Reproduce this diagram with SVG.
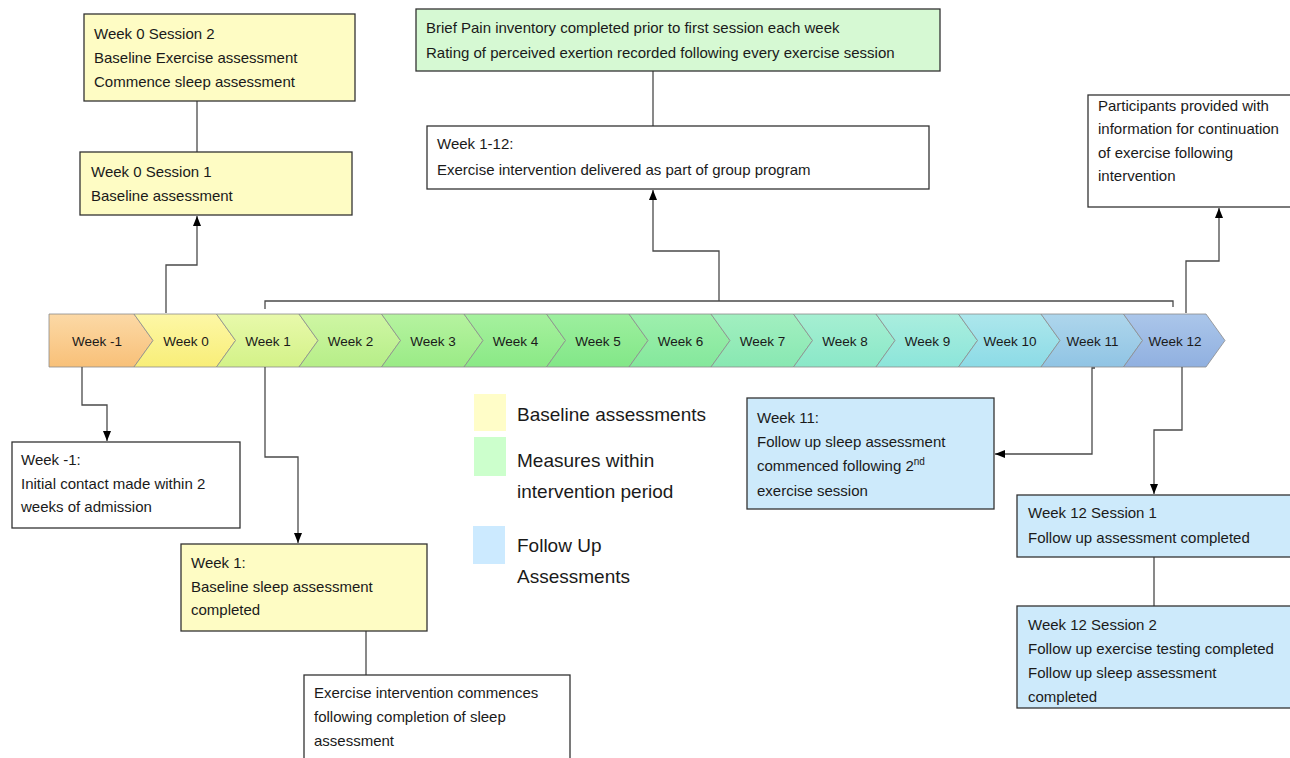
<svg xmlns="http://www.w3.org/2000/svg" width="1290" height="758" viewBox="0 0 1290 758">
<style>
  text { font-family: "Liberation Sans", Arial, sans-serif; fill: #1a1a1a; }
  .bt { font-size: 15px; }
  .wk { font-size: 13.5px; text-anchor: middle; }
  .lg { font-size: 19px; }
  .box { stroke: #333333; stroke-width: 1.3; }
  .white { fill: #ffffff; }
  .yellow { fill: #fefcc4; }
  .green { fill: #d6f9d3; }
  .blue { fill: #cdeafb; }
  .chev { stroke: #8c8c8c; stroke-width: 0.8; }
  .conn { fill: none; stroke: #4a4a4a; stroke-width: 1.3; }
  .arr { marker-end: url(#ah); }
</style>
<defs>
  <marker id="ah" markerUnits="userSpaceOnUse" markerWidth="10" markerHeight="10" viewBox="0 0 10 10" refX="10" refY="5" orient="auto">
    <path d="M0,1 L10,5 L0,9 Z" fill="#000000"/>
  </marker>
  <linearGradient id="g0" x1="0" y1="0" x2="0" y2="1"><stop offset="0" stop-color="#fcd9a6"/><stop offset="1" stop-color="#f8c078"/></linearGradient>
  <linearGradient id="g1" x1="0" y1="0" x2="0" y2="1"><stop offset="0" stop-color="#fdf7a6"/><stop offset="1" stop-color="#f8ee78"/></linearGradient>
  <linearGradient id="g2" x1="0" y1="0" x2="0" y2="1"><stop offset="0" stop-color="#e8f9ab"/><stop offset="1" stop-color="#d3f288"/></linearGradient>
  <linearGradient id="g3" x1="0" y1="0" x2="0" y2="1"><stop offset="0" stop-color="#cff6a4"/><stop offset="1" stop-color="#b6ee88"/></linearGradient>
  <linearGradient id="g4" x1="0" y1="0" x2="0" y2="1"><stop offset="0" stop-color="#b6f3a0"/><stop offset="1" stop-color="#9aeb86"/></linearGradient>
  <linearGradient id="g5" x1="0" y1="0" x2="0" y2="1"><stop offset="0" stop-color="#a6f19e"/><stop offset="1" stop-color="#8ae986"/></linearGradient>
  <linearGradient id="g6" x1="0" y1="0" x2="0" y2="1"><stop offset="0" stop-color="#9def9e"/><stop offset="1" stop-color="#82e788"/></linearGradient>
  <linearGradient id="g7" x1="0" y1="0" x2="0" y2="1"><stop offset="0" stop-color="#9eefad"/><stop offset="1" stop-color="#84e89c"/></linearGradient>
  <linearGradient id="g8" x1="0" y1="0" x2="0" y2="1"><stop offset="0" stop-color="#a2efc0"/><stop offset="1" stop-color="#88e8b2"/></linearGradient>
  <linearGradient id="g9" x1="0" y1="0" x2="0" y2="1"><stop offset="0" stop-color="#a6efd2"/><stop offset="1" stop-color="#8ae8c8"/></linearGradient>
  <linearGradient id="g10" x1="0" y1="0" x2="0" y2="1"><stop offset="0" stop-color="#aaeede"/><stop offset="1" stop-color="#8ce5da"/></linearGradient>
  <linearGradient id="g11" x1="0" y1="0" x2="0" y2="1"><stop offset="0" stop-color="#ade7ec"/><stop offset="1" stop-color="#8cdbe6"/></linearGradient>
  <linearGradient id="g12" x1="0" y1="0" x2="0" y2="1"><stop offset="0" stop-color="#aed6ec"/><stop offset="1" stop-color="#90c4e4"/></linearGradient>
  <linearGradient id="g13" x1="0" y1="0" x2="0" y2="1"><stop offset="0" stop-color="#abc6ea"/><stop offset="1" stop-color="#90b0e0"/></linearGradient>
</defs>
<rect width="1290" height="758" fill="#ffffff"/>

<g id="timeline">
  <g id="wk-1"><path class="chev" fill="url(#g0)" d="M49,314 H134 L153,340.5 L134,367 H49 Z"/><text class="wk" x="97" y="346">Week -1</text></g>
  <g id="wk0"><path class="chev" fill="url(#g1)" d="M134,314 H216.5 L235.5,340.5 L216.5,367 H134 L153,340.5 Z"/><text class="wk" x="186" y="346">Week 0</text></g>
  <g id="wk1"><path class="chev" fill="url(#g2)" d="M216.5,314 H299 L318,340.5 L299,367 H216.5 L235.5,340.5 Z"/><text class="wk" x="268" y="346">Week 1</text></g>
  <g id="wk2"><path class="chev" fill="url(#g3)" d="M299,314 H381.5 L400.5,340.5 L381.5,367 H299 L318,340.5 Z"/><text class="wk" x="350.5" y="346">Week 2</text></g>
  <g id="wk3"><path class="chev" fill="url(#g4)" d="M381.5,314 H464 L483,340.5 L464,367 H381.5 L400.5,340.5 Z"/><text class="wk" x="433" y="346">Week 3</text></g>
  <g id="wk4"><path class="chev" fill="url(#g5)" d="M464,314 H546.5 L565.5,340.5 L546.5,367 H464 L483,340.5 Z"/><text class="wk" x="515.5" y="346">Week 4</text></g>
  <g id="wk5"><path class="chev" fill="url(#g6)" d="M546.5,314 H629 L648,340.5 L629,367 H546.5 L565.5,340.5 Z"/><text class="wk" x="598" y="346">Week 5</text></g>
  <g id="wk6"><path class="chev" fill="url(#g7)" d="M629,314 H711 L730,340.5 L711,367 H629 L648,340.5 Z"/><text class="wk" x="680.5" y="346">Week 6</text></g>
  <g id="wk7"><path class="chev" fill="url(#g8)" d="M711,314 H793.5 L812.5,340.5 L793.5,367 H711 L730,340.5 Z"/><text class="wk" x="762.5" y="346">Week 7</text></g>
  <g id="wk8"><path class="chev" fill="url(#g9)" d="M793.5,314 H876 L895,340.5 L876,367 H793.5 L812.5,340.5 Z"/><text class="wk" x="845" y="346">Week 8</text></g>
  <g id="wk9"><path class="chev" fill="url(#g10)" d="M876,314 H958.5 L977.5,340.5 L958.5,367 H876 L895,340.5 Z"/><text class="wk" x="927.5" y="346">Week 9</text></g>
  <g id="wk10"><path class="chev" fill="url(#g11)" d="M958.5,314 H1041 L1060,340.5 L1041,367 H958.5 L977.5,340.5 Z"/><text class="wk" x="1010" y="346">Week 10</text></g>
  <g id="wk11"><path class="chev" fill="url(#g12)" d="M1041,314 H1123.5 L1142.5,340.5 L1123.5,367 H1041 L1060,340.5 Z"/><text class="wk" x="1092.5" y="346">Week 11</text></g>
  <g id="wk12"><path class="chev" fill="url(#g13)" d="M1123.5,314 H1206 L1225,340.5 L1206,367 H1123.5 L1142.5,340.5 Z"/><text class="wk" x="1175" y="346">Week 12</text></g>
</g>

<g id="connectors">
  <path class="conn arr" d="M166,313 V265 H197 V216"/>
  <path class="conn" d="M197,101 V152"/>
  <path class="conn" d="M653,71 V126"/>
  <path class="conn" d="M265,309 V301 H1173 V307"/>
  <path class="conn arr" d="M719,301 V251 H653 V190"/>
  <path class="conn arr" d="M1186,313 V261 H1219 V208"/>
  <path class="conn arr" d="M82,367 V405 H107 V441"/>
  <path class="conn arr" d="M265,367 V457 H298 V543"/>
  <path class="conn" d="M366,631 V675"/>
  <path class="conn arr" d="M1095,368 H1092 V454 H995"/>
  <path class="conn arr" d="M1182,367 V430 H1154 V494"/>
  <path class="conn" d="M1154,557 V606"/>
</g>

<g id="w0s2">
  <rect class="box yellow" x="84" y="14" width="271" height="87"/>
  <text class="bt" x="94" y="39">Week 0 Session 2</text>
  <text class="bt" x="94" y="63">Baseline Exercise assessment</text>
  <text class="bt" x="94" y="87">Commence sleep assessment</text>
</g>
<g id="w0s1">
  <rect class="box yellow" x="80" y="152" width="272" height="63"/>
  <text class="bt" x="91" y="177">Week 0 Session 1</text>
  <text class="bt" x="91" y="201">Baseline assessment</text>
</g>
<g id="measures">
  <rect class="box green" x="416" y="9" width="524" height="62"/>
  <text class="bt" x="426" y="33">Brief Pain inventory completed prior to first session each week</text>
  <text class="bt" x="426" y="58">Rating of perceived exertion recorded following every exercise session</text>
</g>
<g id="wk1-12">
  <rect class="box white" x="427" y="126" width="502" height="63"/>
  <text class="bt" x="437" y="149">Week 1-12:</text>
  <text class="bt" x="437" y="175">Exercise intervention delivered as part of group program</text>
</g>
<g id="participants">
  <rect class="box white" x="1088" y="95" width="210" height="112"/>
  <text class="bt" x="1098" y="111">Participants provided with</text>
  <text class="bt" x="1098" y="134">information for continuation</text>
  <text class="bt" x="1098" y="158">of exercise following</text>
  <text class="bt" x="1098" y="181">intervention</text>
</g>
<g id="wkm1box">
  <rect class="box white" x="12" y="442" width="228" height="86"/>
  <text class="bt" x="21" y="465">Week -1:</text>
  <text class="bt" x="21" y="489">Initial contact made within 2</text>
  <text class="bt" x="21" y="512">weeks of admission</text>
</g>
<g id="wk1box">
  <rect class="box yellow" x="181" y="544" width="246" height="87"/>
  <text class="bt" x="191" y="568">Week 1:</text>
  <text class="bt" x="191" y="592">Baseline sleep assessment</text>
  <text class="bt" x="191" y="615">completed</text>
</g>
<g id="commence">
  <rect class="box white" x="304" y="675" width="266" height="110"/>
  <text class="bt" x="314" y="698">Exercise intervention commences</text>
  <text class="bt" x="314" y="722">following completion of sleep</text>
  <text class="bt" x="314" y="746">assessment</text>
</g>
<g id="wk11box">
  <rect class="box blue" x="747" y="398" width="247" height="111"/>
  <text class="bt" x="757" y="423">Week 11:</text>
  <text class="bt" x="757" y="447">Follow up sleep assessment</text>
  <text class="bt" x="757" y="471">commenced following 2<tspan font-size="10" dy="-6">nd</tspan></text>
  <text class="bt" x="757" y="496">exercise session</text>
</g>
<g id="w12s1">
  <rect class="box blue" x="1017" y="495" width="280" height="62"/>
  <text class="bt" x="1028" y="518">Week 12 Session 1</text>
  <text class="bt" x="1028" y="543">Follow up assessment completed</text>
</g>
<g id="w12s2">
  <rect class="box blue" x="1017" y="606" width="280" height="102"/>
  <text class="bt" x="1028" y="630">Week 12 Session 2</text>
  <text class="bt" x="1028" y="654">Follow up exercise testing completed</text>
  <text class="bt" x="1028" y="678">Follow up sleep assessment</text>
  <text class="bt" x="1028" y="702">completed</text>
</g>

<g id="legend">
  <rect x="474" y="394" width="32" height="37" fill="#fffdc8"/>
  <text class="lg" x="517" y="421">Baseline assessments</text>
  <rect x="474" y="437" width="32" height="39" fill="#ccffcc"/>
  <text class="lg" x="517" y="467">Measures within</text>
  <text class="lg" x="517" y="498">intervention period</text>
  <rect x="473" y="526" width="32" height="38" fill="#cceaff"/>
  <text class="lg" x="517" y="552">Follow Up</text>
  <text class="lg" x="517" y="583">Assessments</text>
</g>
</svg>
